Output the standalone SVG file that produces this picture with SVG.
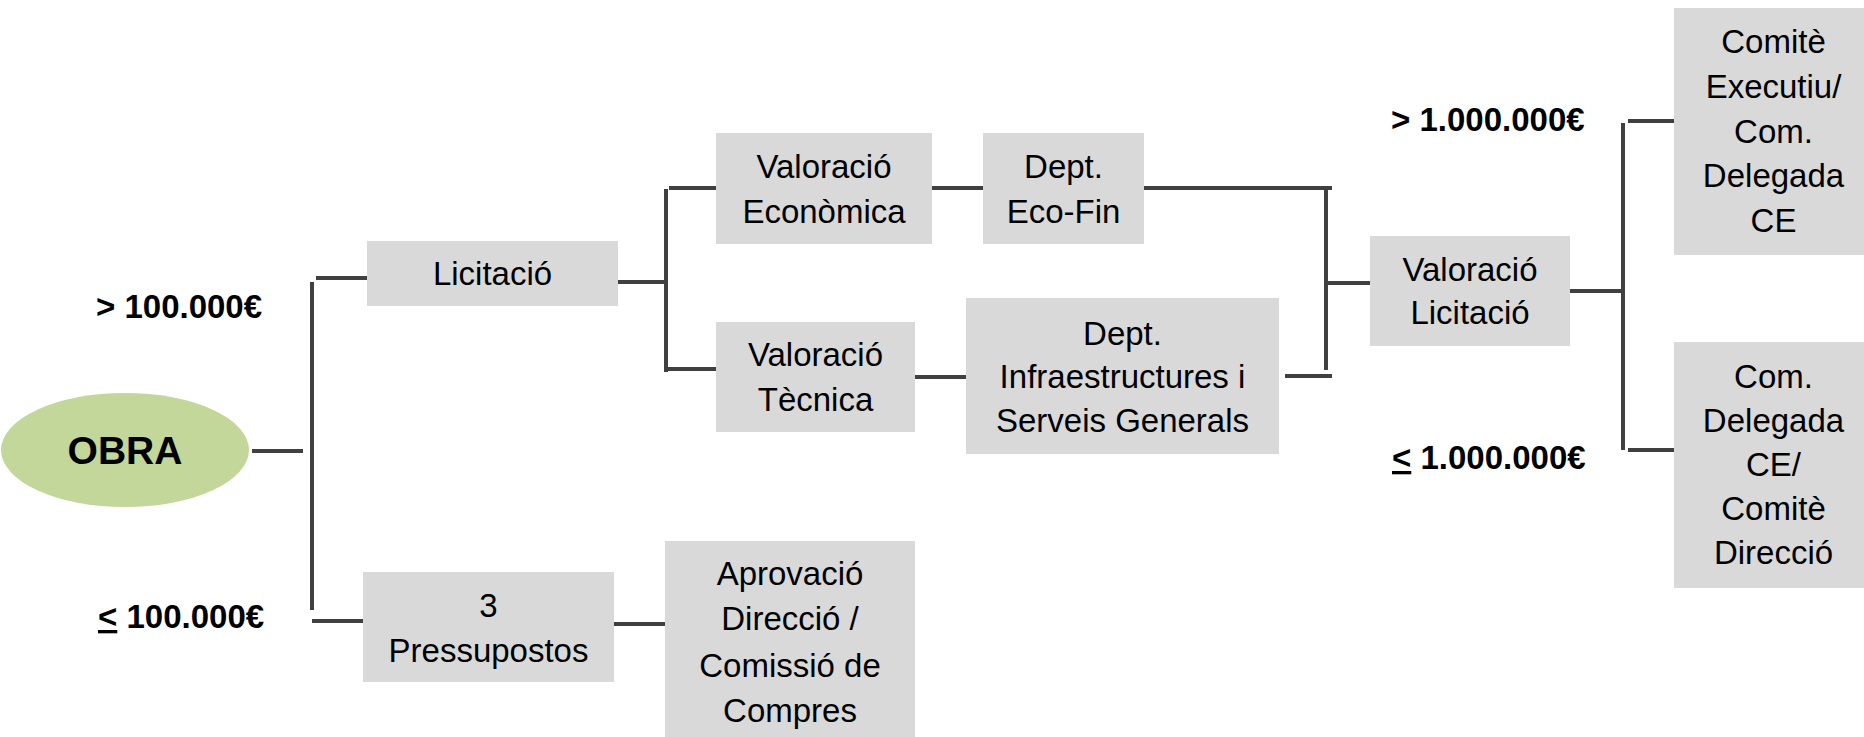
<svg xmlns="http://www.w3.org/2000/svg" width="1864" height="737" viewBox="0 0 1864 737">
<style>
.box{fill:#d9d9d9}
.t{font-family:"Liberation Sans",Arial,sans-serif;font-size:33px;fill:#000;text-anchor:middle}
.b{font-family:"Liberation Sans",Arial,sans-serif;font-size:33px;font-weight:bold;fill:#000}
.c{stroke:#404040;stroke-width:4;fill:none}
</style>
<rect width="1864" height="737" fill="#fff"/>
<g id="connectors" class="c">
<path d="M252 451H303"/>
<path d="M312 282V610"/>
<path d="M316 278H367"/>
<path d="M312 621H363"/>
<path d="M618 282H668"/>
<path d="M666 189V372"/>
<path d="M669 188H716"/>
<path d="M666 369H716"/>
<path d="M932 188H983"/>
<path d="M1144 188H1332"/>
<path d="M1326 188V370"/>
<path d="M1285 376H1332"/>
<path d="M1326 283H1370"/>
<path d="M915 377H966"/>
<path d="M1570 291H1621"/>
<path d="M1623 123V450"/>
<path d="M1628 121H1674"/>
<path d="M1628 450H1674"/>
<path d="M614 624H665"/>
</g>
<g id="obra">
<ellipse cx="125" cy="450" rx="124" ry="57" fill="#c4d79b"/>
<text x="125" y="464" font-family="Liberation Sans, Arial, sans-serif" font-size="39" font-weight="bold" text-anchor="middle">OBRA</text>
</g>
<g id="labels">
<text class="b" x="96" y="318">&gt; 100.000€</text>
<text class="b" x="98" y="628"><tspan style="text-decoration:underline">&lt;</tspan> 100.000€</text>
<text class="b" x="1391" y="131">&gt; 1.000.000€</text>
<text class="b" x="1392" y="469"><tspan style="text-decoration:underline">&lt;</tspan> 1.000.000€</text>
</g>
<g id="licitacio">
<rect class="box" x="367" y="241" width="251" height="65"/>
<text class="t" x="492.5" y="285">Licitació</text>
</g>
<g id="val-economica">
<rect class="box" x="716" y="133" width="216" height="111"/>
<text class="t" x="824" y="178">Valoració</text>
<text class="t" x="824" y="223">Econòmica</text>
</g>
<g id="val-tecnica">
<rect class="box" x="716" y="322" width="199" height="110"/>
<text class="t" x="815.5" y="366">Valoració</text>
<text class="t" x="815.5" y="411">Tècnica</text>
</g>
<g id="dept-ecofin">
<rect class="box" x="983" y="133" width="161" height="111"/>
<text class="t" x="1063.5" y="178">Dept.</text>
<text class="t" x="1063.5" y="223">Eco-Fin</text>
</g>
<g id="dept-infra">
<rect class="box" x="966" y="298" width="313" height="156"/>
<text class="t" x="1122.5" y="345">Dept.</text>
<text class="t" x="1122.5" y="388">Infraestructures i</text>
<text class="t" x="1122.5" y="432">Serveis Generals</text>
</g>
<g id="val-licitacio">
<rect class="box" x="1370" y="236" width="200" height="110"/>
<text class="t" x="1470" y="281">Valoració</text>
<text class="t" x="1470" y="324">Licitació</text>
</g>
<g id="comite-executiu">
<rect class="box" x="1674" y="8" width="199" height="247"/>
<text class="t" x="1773.5" y="53">Comitè</text>
<text class="t" x="1773.5" y="98">Executiu/</text>
<text class="t" x="1773.5" y="143">Com.</text>
<text class="t" x="1773.5" y="187">Delegada</text>
<text class="t" x="1773.5" y="232">CE</text>
</g>
<g id="com-delegada">
<rect class="box" x="1674" y="342" width="199" height="246"/>
<text class="t" x="1773.5" y="388">Com.</text>
<text class="t" x="1773.5" y="432">Delegada</text>
<text class="t" x="1773.5" y="476">CE/</text>
<text class="t" x="1773.5" y="520">Comitè</text>
<text class="t" x="1773.5" y="564">Direcció</text>
</g>
<g id="pressupostos">
<rect class="box" x="363" y="572" width="251" height="110"/>
<text class="t" x="488.5" y="617">3</text>
<text class="t" x="488.5" y="662">Pressupostos</text>
</g>
<g id="aprovacio">
<rect class="box" x="665" y="541" width="250" height="204"/>
<text class="t" x="790" y="585">Aprovació</text>
<text class="t" x="790" y="630">Direcció /</text>
<text class="t" x="790" y="677">Comissió de</text>
<text class="t" x="790" y="722">Compres</text>
</g>
</svg>
